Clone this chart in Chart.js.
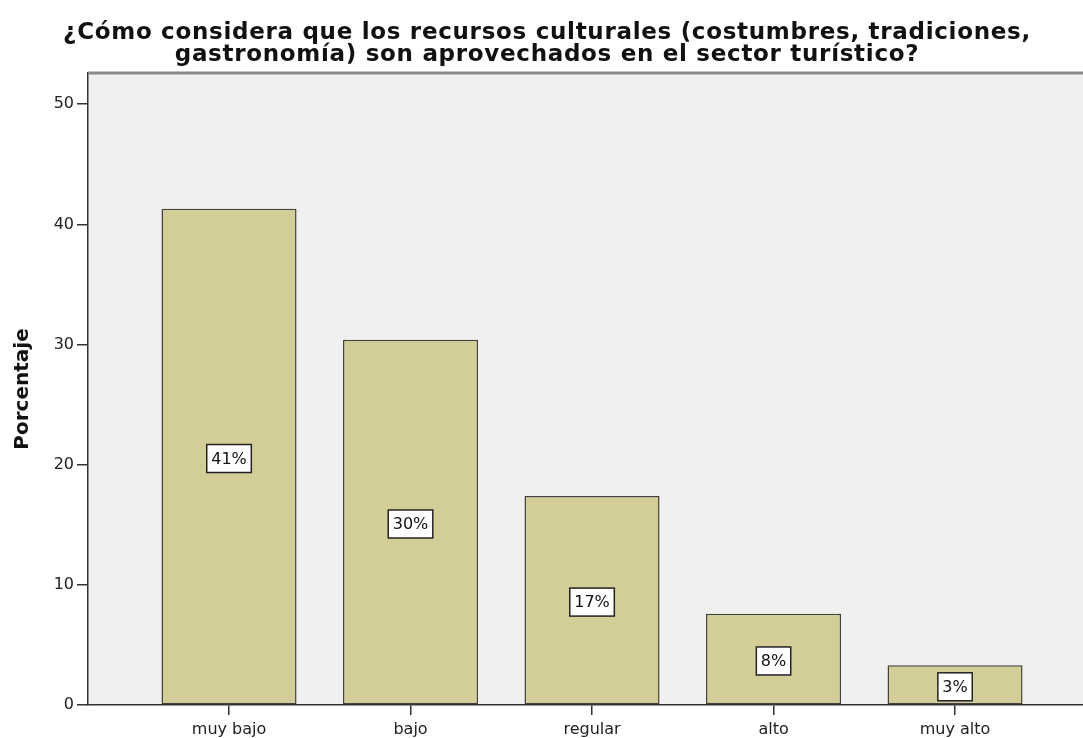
<!DOCTYPE html>
<html>
<head>
<meta charset="utf-8">
<script src="https://cdn.jsdelivr.net/npm/chart.js@4/dist/chart.umd.min.js"></script>
<style>
  html, body { margin: 0; padding: 0; background: #fff; }
  #wrap { width: 1083px; height: 738px; }
</style>
</head>
<body>
<div id="wrap"><canvas id="barChart"></canvas></div>
<script>
var categories = ['muy bajo', 'bajo', 'regular', 'alto', 'muy alto'];
var porcentajes = [41.3, 30.4, 17.4, 7.6, 3.3];
var yTicks = [0, 10, 20, 30, 40, 50];
var titulo = ['¿Cómo considera que los recursos culturales (costumbres, tradiciones,',
              'gastronomía) son aprovechados en el sector turístico?'];

var FONT = '"DejaVu Sans", Verdana, sans-serif';

// fondo gris del area, marco superior y titulo (con espaciado entre letras)
var plotFrame = {
    id: 'plotFrame',
    beforeDraw: function (chart) {
        var a = chart.chartArea, ctx = chart.ctx;
        ctx.save();
        ctx.fillStyle = '#f0f0f0';
        ctx.fillRect(a.left, a.top, a.right - a.left, a.bottom - a.top);
        ctx.restore();
    },
    afterDraw: function (chart) {
        var a = chart.chartArea, ctx = chart.ctx;
        ctx.save();
        ctx.strokeStyle = '#8a8a8a';
        ctx.lineWidth = 3;
        ctx.beginPath();
        ctx.moveTo(a.left, a.top);
        ctx.lineTo(a.right, a.top);
        ctx.stroke();

        ctx.fillStyle = '#111';
        ctx.font = 'bold 23px ' + FONT;
        ctx.letterSpacing = '0.7px';
        ctx.textAlign = 'center';
        ctx.textBaseline = 'alphabetic';
        ctx.fillText(titulo[0], 547, 39);
        ctx.fillText(titulo[1], 547, 61);
        ctx.restore();
    }
};

// etiquetas con recuadro blanco en el centro de cada barra
var boxLabels = {
    id: 'boxLabels',
    afterDatasetsDraw: function (chart) {
        var ctx = chart.ctx;
        var meta = chart.getDatasetMeta(0);
        ctx.save();
        ctx.font = '16px ' + FONT;
        ctx.textAlign = 'center';
        ctx.textBaseline = 'middle';
        meta.data.forEach(function (bar, i) {
            var txt = Math.round(porcentajes[i]) + '%';
            var cy = (bar.y + bar.base) / 2 + 2;
            var w = ctx.measureText(txt).width + 9;
            var h = 28;
            ctx.fillStyle = '#ffffff';
            ctx.fillRect(bar.x - w / 2, cy - h / 2, w, h);
            ctx.strokeStyle = '#222';
            ctx.lineWidth = 1.5;
            ctx.strokeRect(bar.x - w / 2, cy - h / 2, w, h);
            ctx.fillStyle = '#111';
            ctx.fillText(txt, bar.x, cy + 1);
        });
        ctx.restore();
    }
};

var ctx = document.getElementById('barChart').getContext('2d');
var barChart = new Chart(ctx, {
    type: 'bar',
    data: {
        datasets: [{
            data: categories.map(function (c, i) { return { x: i, y: porcentajes[i] }; }),
            backgroundColor: '#d3ce97',
            borderColor: '#44443a',
            borderWidth: 1.5,
            borderSkipped: false,
            categoryPercentage: 1,
            barPercentage: 0.744
        }]
    },
    options: {
        responsive: true,
        maintainAspectRatio: false,
        animation: false,
        layout: { padding: { left: 0, right: 0, top: 73, bottom: 0 } },
        plugins: {
            legend: { display: false },
            tooltip: { enabled: false },
            title: { display: false }
        },
        scales: {
            x: {
                type: 'linear',
                min: -0.777,
                max: 4.705,
                offset: false,
                afterFit: function (s) { s.height = 33; },
                afterBuildTicks: function (s) {
                    s.ticks = categories.map(function (c, i) { return { value: i }; });
                },
                ticks: {
                    autoSkip: false,
                    maxRotation: 0,
                    padding: 5,
                    color: '#222',
                    font: { family: FONT, size: 16 },
                    callback: function (v) { return categories[v]; }
                },
                grid: { offset: false, drawOnChartArea: false, drawTicks: true, tickLength: 10, color: '#333', lineWidth: 1.5 },
                border: { color: '#333', width: 1.5 }
            },
            y: {
                min: 0,
                max: 52.6,
                afterFit: function (s) { s.width = 88; },
                afterBuildTicks: function (s) {
                    s.ticks = yTicks.map(function (v) { return { value: v }; });
                },
                ticks: {
                    padding: 3,
                    color: '#222',
                    font: { family: FONT, size: 16 }
                },
                grid: { drawOnChartArea: false, drawTicks: true, tickLength: 11, color: '#333', lineWidth: 1.5 },
                border: { color: '#333', width: 1.5 },
                title: {
                    display: true,
                    text: 'Porcentaje',
                    color: '#111',
                    font: { family: FONT, size: 20, weight: 'bold' },
                    padding: { top: 11, bottom: 0 }
                }
            }
        }
    },
    plugins: [plotFrame, boxLabels]
});
</script>
</body>
</html>
